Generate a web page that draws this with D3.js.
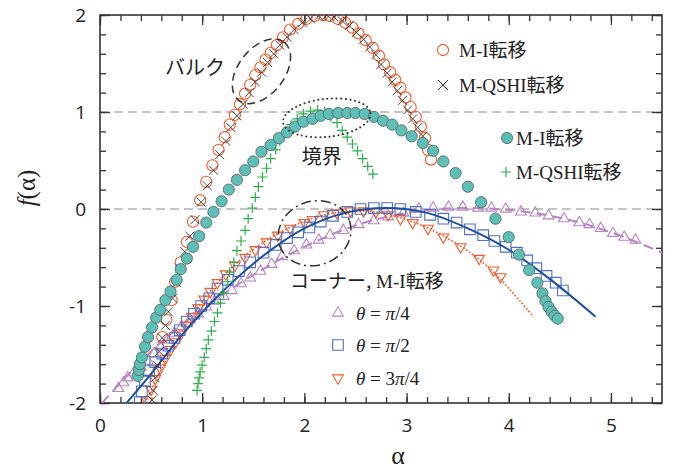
<!DOCTYPE html>
<html>
<head>
<meta charset="utf-8">
<script src="https://cdn.jsdelivr.net/npm/d3@7"></script>
<style>
  body { margin: 0; background: #fff; }
  svg { display: block; }
  .axis .tick text { font-family: "Open Sans", "Noto Sans", sans-serif; font-size: 19px; fill: #222; }
  .axis path, .axis line { stroke: #333; }
  .serif { font-family: "Liberation Serif", "Times New Roman", "Noto Sans CJK JP", serif; }
  .cjk { font-family: "Noto Sans CJK JP", sans-serif; }
</style>
</head>
<body>
<div id="chart"></div>
<script>
// bulk: M-I (open circles) and M-QSHI (x)
const bulkMI = [
  [0.61,-1.32],[0.65,-1.14],[0.70,-0.94],[0.735,-0.75],[0.79,-0.55],[0.85,-0.34],[0.91,-0.13],
  [0.98,0.09],[1.04,0.28],[1.10,0.45],[1.16,0.61],[1.22,0.74],[1.27,0.87],[1.32,0.97],[1.37,1.08],
  [1.42,1.19],[1.47,1.28],[1.52,1.38],[1.57,1.46],[1.62,1.54],[1.67,1.61],[1.73,1.69],[1.79,1.77],
  [1.86,1.85],[1.94,1.91],[2.02,1.96],[2.10,1.99],[2.18,2.0],[2.25,1.99],[2.33,1.96],[2.40,1.92],
  [2.47,1.87],[2.53,1.81],[2.60,1.74],[2.67,1.66],[2.73,1.58],[2.78,1.49],[2.84,1.41],[2.89,1.33],
  [2.94,1.25],[2.99,1.15],[3.04,1.05],[3.09,0.95],[3.14,0.85],[3.18,0.73],[3.21,0.61],[3.24,0.51]
];
const bulkQSHI = [
  [0.51,-1.97],[0.52,-1.87],[0.54,-1.74],[0.56,-1.61],[0.58,-1.47],[0.61,-1.33],[0.64,-1.20],
  [0.67,-1.06],[0.71,-0.92],[0.75,-0.76],[0.78,-0.61],[0.83,-0.44],[0.88,-0.28],[0.93,-0.11],
  [0.99,0.07],[1.05,0.24],[1.11,0.40],[1.17,0.56],[1.23,0.70],[1.28,0.84],[1.34,0.96],[1.40,1.08],
  [1.46,1.20],[1.52,1.31],[1.58,1.41],[1.64,1.51],[1.70,1.60],[1.76,1.69],[1.83,1.77],[1.90,1.85],
  [1.98,1.92],[2.06,1.96],[2.14,1.99],[2.22,2.0],[2.29,1.98],[2.37,1.94],[2.44,1.89],[2.51,1.82],
  [2.58,1.75],[2.64,1.67],[2.70,1.59],[2.75,1.49],[2.81,1.40],[2.86,1.31],[2.91,1.22],[2.96,1.12],
  [3.01,1.02],[3.06,0.93],[3.11,0.84],[3.16,0.75]
];
// boundary: M-I (filled circles) and M-QSHI (+)
const edgeMI = [
  [0.37,-1.72],[0.38,-1.66],[0.39,-1.60],[0.41,-1.53],[0.44,-1.42],[0.47,-1.32],[0.51,-1.22],
  [0.55,-1.12],[0.59,-1.04],[0.64,-0.94],[0.69,-0.85],[0.75,-0.73],[0.79,-0.62],[0.85,-0.51],
  [0.91,-0.39],[0.97,-0.28],[1.04,-0.14],[1.11,-0.03],[1.19,0.08],[1.26,0.20],[1.34,0.30],
  [1.42,0.40],[1.50,0.49],[1.58,0.59],[1.67,0.66],[1.75,0.73],[1.83,0.79],[1.91,0.85],[1.99,0.90],
  [2.08,0.93],[2.16,0.96],[2.24,0.98],[2.33,0.99],[2.42,0.99],[2.50,0.99],[2.59,0.98],[2.68,0.95],
  [2.77,0.91],[2.86,0.87],[2.95,0.81],[3.05,0.75],[3.16,0.68],[3.26,0.60],[3.36,0.49],[3.48,0.37],
  [3.60,0.23],[3.73,0.07],[3.87,-0.10],[4.00,-0.29],[4.10,-0.47],[4.20,-0.63],[4.28,-0.76],
  [4.33,-0.87],[4.36,-0.95],[4.39,-1.01],[4.42,-1.06],[4.45,-1.10],[4.48,-1.13]
];
const edgeQSHI = [
  [0.95,-1.87],[0.96,-1.80],[0.97,-1.74],[0.98,-1.68],[1.00,-1.61],[1.02,-1.53],[1.04,-1.44],
  [1.06,-1.35],[1.09,-1.26],[1.12,-1.16],[1.15,-1.07],[1.18,-0.97],[1.21,-0.87],[1.25,-0.75],
  [1.27,-0.65],[1.31,-0.55],[1.34,-0.43],[1.38,-0.33],[1.42,-0.22],[1.45,-0.10],[1.49,0.01],
  [1.52,0.12],[1.55,0.23],[1.59,0.33],[1.63,0.42],[1.67,0.52],[1.72,0.61],[1.76,0.70],[1.81,0.78],
  [1.87,0.87],[1.93,0.93],[1.99,0.98],[2.06,1.01],[2.13,1.02],[2.20,1.00],[2.26,0.95],[2.32,0.89],
  [2.37,0.81],[2.42,0.74],[2.47,0.67],[2.52,0.60],[2.57,0.52],[2.62,0.44],[2.67,0.36]
];
// corner M-I, theta = pi/4, pi/2, 3pi/4 (points and fitted curves)
const cornerQ1 = [
  [0.18,-1.85],[0.23,-1.79],[0.27,-1.74],[0.33,-1.69],[0.40,-1.63],[0.47,-1.57],[0.53,-1.49],
  [0.59,-1.42],[0.66,-1.35],[0.73,-1.28],[0.80,-1.21],[0.88,-1.14],[0.96,-1.08],[1.04,-1.01],
  [1.12,-0.95],[1.21,-0.90],[1.29,-0.84],[1.38,-0.77],[1.47,-0.71],[1.57,-0.64],[1.68,-0.57],
  [1.78,-0.49],[1.90,-0.43],[2.02,-0.37],[2.14,-0.32],[2.25,-0.27],[2.38,-0.22],[2.53,-0.16],
  [2.68,-0.12],[2.82,-0.08],[2.97,-0.04],[3.12,0.00],[3.26,0.01],[3.41,0.02],[3.55,0.02],
  [3.70,0.01],[3.83,0.01],[3.97,0.00],[4.12,-0.03],[4.26,-0.04],[4.39,-0.07],[4.54,-0.10],
  [4.69,-0.14],[4.79,-0.16],[4.90,-0.20],[5.02,-0.25],[5.13,-0.29],[5.24,-0.32]
];
const cornerQ1Fit = [
  [0.02,-2.0],[0.3,-1.68],[0.6,-1.37],[1.0,-1.03],[1.5,-0.68],[2.0,-0.39],[2.5,-0.17],
  [3.0,-0.04],[3.5,0.01],[4.0,-0.01],[4.5,-0.09],[5.0,-0.24],[5.5,-0.45]
];
const cornerQ2 = [
  [0.39,-1.99],[0.41,-1.88],[0.44,-1.77],[0.48,-1.67],[0.54,-1.58],[0.61,-1.49],[0.67,-1.41],
  [0.73,-1.33],[0.78,-1.25],[0.85,-1.16],[0.92,-1.08],[0.99,-1.00],[1.07,-0.92],[1.15,-0.82],
  [1.25,-0.73],[1.36,-0.64],[1.47,-0.55],[1.60,-0.45],[1.72,-0.37],[1.83,-0.30],[1.94,-0.24],
  [2.05,-0.19],[2.16,-0.13],[2.28,-0.07],[2.42,-0.03],[2.55,0.00],[2.68,0.01],[2.81,0.01],
  [2.94,0.00],[3.09,-0.03],[3.23,-0.06],[3.36,-0.10],[3.49,-0.14],[3.62,-0.21],[3.75,-0.27],
  [3.86,-0.33],[3.97,-0.39],[4.08,-0.45],[4.18,-0.53],[4.27,-0.61],[4.37,-0.69],[4.46,-0.76],
  [4.53,-0.84]
];
const cornerQ2Fit = [
  [0.26,-2.0],[0.5,-1.7],[0.8,-1.3],[1.2,-0.85],[1.6,-0.48],[2.0,-0.2],[2.4,-0.04],[2.8,0.01],
  [3.2,-0.04],[3.6,-0.2],[4.0,-0.42],[4.4,-0.72],[4.85,-1.11]
];
const cornerQ3 = [
  [0.46,-1.98],[0.50,-1.86],[0.54,-1.75],[0.59,-1.64],[0.64,-1.54],[0.69,-1.45],[0.74,-1.37],
  [0.79,-1.29],[0.84,-1.20],[0.90,-1.11],[0.96,-1.02],[1.02,-0.93],[1.08,-0.85],[1.15,-0.76],
  [1.23,-0.67],[1.32,-0.58],[1.42,-0.50],[1.52,-0.42],[1.63,-0.34],[1.74,-0.27],[1.86,-0.20],
  [2.00,-0.14],[2.08,-0.11],[2.19,-0.06],[2.32,-0.04],[2.45,-0.02],[2.58,-0.02],[2.70,-0.03],
  [2.82,-0.06],[2.94,-0.10],[3.06,-0.14],[3.21,-0.20],[3.36,-0.29],[3.53,-0.39],[3.71,-0.51],
  [3.85,-0.63],[3.92,-0.70]
];
const cornerQ3Fit = [
  [0.44,-2.0],[0.7,-1.45],[1.0,-0.95],[1.4,-0.5],[1.8,-0.22],[2.2,-0.06],[2.6,-0.02],
  [3.0,-0.11],[3.4,-0.3],[3.8,-0.6],[4.24,-1.11]
];
const xTicks = [0, 1, 2, 3, 4, 5];
const yTicks = [-2, -1, 0, 1, 2];
const refLines = [0, 1];

(function () {
  const width = 676, height = 472;
  const margin = { top: 15, right: 14, bottom: 69, left: 100 };
  const innerWidth = width - margin.left - margin.right;
  const innerHeight = height - margin.top - margin.bottom;

  const orange = "#f15a29", teal = "#5cc0b8", green = "#2bb04a",
        purple = "#b884c4", blue = "#4d72c4", blueLine = "#1d4fa3";

  const svg = d3.select("#chart").append("svg")
    .attr("width", width).attr("height", height);

  const g = svg.append("g")
    .attr("transform", `translate(${margin.left},${margin.top})`);

  const x = d3.scaleLinear().domain([0, 5.5]).range([0, innerWidth]);
  const y = d3.scaleLinear().domain([-2, 2]).range([innerHeight, 0]);

  // reference dashed lines
  g.selectAll(".ref").data(refLines).join("line")
    .attr("x1", 0).attr("x2", innerWidth)
    .attr("y1", d => y(d)).attr("y2", d => y(d))
    .attr("stroke", "#8a8a8a").attr("stroke-width", 1)
    .attr("stroke-dasharray", "9,5");

  // axes: major + minor, ticks inward on all four sides
  const minorX = d3.range(0, 5.5, 0.2), minorY = d3.range(-2, 2.01, 0.2);
  const plain = d => String(d);
  function addAxis(axis, transform, labels) {
    const a = g.append("g").attr("class", "axis").attr("transform", transform).call(axis);
    a.select(".domain").remove();
    a.selectAll("line").attr("stroke-width", 1.3);
    if (!labels) a.selectAll("text").remove();
    return a;
  }
  addAxis(d3.axisBottom(x).tickValues(xTicks).tickSize(-10).tickPadding(16).tickFormat(plain), `translate(0,${innerHeight})`, true);
  addAxis(d3.axisBottom(x).tickValues(minorX).tickSize(-6).tickFormat(""), `translate(0,${innerHeight})`, false);
  addAxis(d3.axisTop(x).tickValues(xTicks).tickSize(-10), "translate(0,0)", false);
  addAxis(d3.axisTop(x).tickValues(minorX).tickSize(-6), "translate(0,0)", false);
  addAxis(d3.axisLeft(y).tickValues(yTicks).tickSize(-10).tickPadding(14).tickFormat(plain), "translate(0,0)", true);
  addAxis(d3.axisLeft(y).tickValues(minorY).tickSize(-6).tickFormat(""), "translate(0,0)", false);
  addAxis(d3.axisRight(y).tickValues(yTicks).tickSize(-10), `translate(${innerWidth},0)`, false);
  addAxis(d3.axisRight(y).tickValues(minorY).tickSize(-6), `translate(${innerWidth},0)`, false);

  g.append("rect")
    .attr("width", innerWidth).attr("height", innerHeight)
    .attr("fill", "none").attr("stroke", "#333").attr("stroke-width", 1.6);

  // axis titles
  svg.append("text").attr("class", "serif")
    .attr("x", 398).attr("y", 464)
    .attr("text-anchor", "middle").attr("font-size", 26).attr("fill", "#222")
    .text("α");
  svg.append("text").attr("class", "serif")
    .attr("transform", "translate(35,188) rotate(-90)")
    .attr("text-anchor", "middle").attr("font-size", 25).attr("fill", "#222")
    .html('<tspan font-style="italic">f</tspan>(α)');

  // marker shapes
  const shapes = {
    x: r => `M${-r},${-r}L${r},${r}M${-r},${r}L${r},${-r}`,
    plus: r => `M${-r},0L${r},0M0,${-r}L0,${r}`,
    tri: r => `M0,${-r}L${r * 0.866},${r * 0.5}L${-r * 0.866},${r * 0.5}Z`,
    triDown: r => `M0,${r}L${r * 0.866},${-r * 0.5}L${-r * 0.866},${-r * 0.5}Z`,
    sq: r => `M${-r},${-r}h${2 * r}v${2 * r}h${-2 * r}Z`
  };

  const line = d3.line().x(d => x(d[0])).y(d => y(d[1])).curve(d3.curveCatmullRom);
  svg.append("defs").append("clipPath").attr("id", "clip")
    .append("rect").attr("width", innerWidth).attr("height", innerHeight);
  const plot = g.append("g").attr("clip-path", "url(#clip)");

  function drawPoints(data, shape, r, stroke, fill, sw) {
    plot.append("g").selectAll("path").data(data).join("path")
      .attr("transform", d => `translate(${x(d[0])},${y(d[1])})`)
      .attr("d", shapes[shape](r))
      .attr("fill", fill).attr("stroke", stroke).attr("stroke-width", sw);
  }
  function drawCircles(data, r, stroke, fill, sw) {
    plot.append("g").selectAll("circle").data(data).join("circle")
      .attr("cx", d => x(d[0])).attr("cy", d => y(d[1])).attr("r", r)
      .attr("fill", fill).attr("stroke", stroke).attr("stroke-width", sw);
  }

  // corner
  plot.append("path").datum(cornerQ1Fit).attr("d", line)
    .attr("fill", "none").attr("stroke", purple).attr("stroke-width", 2).attr("stroke-dasharray", "10,6");
  drawPoints(cornerQ1, "tri", 6.2, purple, "none", 1.1);
  plot.append("path").datum(cornerQ3Fit).attr("d", line)
    .attr("fill", "none").attr("stroke", orange).attr("stroke-width", 1.8).attr("stroke-dasharray", "1.5,2");
  drawPoints(cornerQ3, "triDown", 6.2, orange, "none", 1.1);
  drawPoints(cornerQ2, "sq", 5.3, blue, "none", 1.1);
  plot.append("path").datum(cornerQ2Fit).attr("d", line)
    .attr("fill", "none").attr("stroke", blueLine).attr("stroke-width", 2);

  // bulk
  drawCircles(bulkMI, 5.6, orange, "none", 1.1);
  drawPoints(bulkQSHI, "x", 4.5, "#333", "none", 0.9);

  // boundary
  drawPoints(edgeQSHI, "plus", 5, green, "none", 1.2);
  drawCircles(edgeMI, 5.6, "#5a6a68", teal, 0.9);

  // annotation ellipses
  g.append("ellipse")
    .attr("transform", `translate(${x(1.58)},${y(1.42)}) rotate(-52)`)
    .attr("rx", 37).attr("ry", 23)
    .attr("fill", "none").attr("stroke", "#333").attr("stroke-width", 1.5).attr("stroke-dasharray", "8,5");
  g.append("ellipse")
    .attr("transform", `translate(${x(2.22)},${y(0.94)}) rotate(-6)`)
    .attr("rx", 44).attr("ry", 19)
    .attr("fill", "none").attr("stroke", "#333").attr("stroke-width", 2)
    .attr("stroke-linecap", "round").attr("stroke-dasharray", "0.1,4.5");
  g.append("ellipse")
    .attr("transform", `translate(${x(2.1)},${y(-0.25)}) rotate(-20)`)
    .attr("rx", 37).attr("ry", 32)
    .attr("fill", "none").attr("stroke", "#333").attr("stroke-width", 1.5).attr("stroke-dasharray", "10,4,2,4");

  // annotation labels
  g.append("text").attr("class", "cjk")
    .attr("x", x(0.93)).attr("y", y(1.45)).attr("dy", "0.35em")
    .attr("text-anchor", "middle").attr("font-size", 20).attr("fill", "#222").text("バルク");
  g.append("text").attr("class", "cjk")
    .attr("x", x(2.17)).attr("y", y(0.54)).attr("dy", "0.35em")
    .attr("text-anchor", "middle").attr("font-size", 20).attr("fill", "#222").text("境界");
  g.append("text")
    .attr("x", x(1.86)).attr("y", y(-0.75)).attr("dy", "0.35em")
    .attr("font-size", 19).attr("fill", "#222")
    .html('<tspan class="cjk">コーナー,</tspan><tspan class="serif"> M-I転移</tspan>');

  // legends (svg coordinates)
  const leg = svg.append("g");
  function legendItem(px, py, tx, draw, label) {
    const item = leg.append("g").attr("transform", `translate(${px},${py})`);
    draw(item);
    leg.append("text").attr("class", "serif")
      .attr("x", tx).attr("y", py).attr("dy", "0.35em")
      .attr("font-size", 19).attr("fill", "#222").html(label);
  }
  const circ = (stroke, fill, sw) => s => s.append("circle").attr("r", 5.6)
    .attr("fill", fill).attr("stroke", stroke).attr("stroke-width", sw);
  const mark = (shape, r, stroke, sw) => s => s.append("path").attr("d", shapes[shape](r))
    .attr("fill", "none").attr("stroke", stroke).attr("stroke-width", sw);

  legendItem(443, 50, 459, circ(orange, "none", 1.1), "M-I転移");
  legendItem(443, 85, 459, mark("x", 5, "#333", 1), "M-QSHI転移");
  legendItem(507, 138, 516, circ("#5a6a68", teal, 0.9), "M-I転移");
  legendItem(506, 172, 516, mark("plus", 5, green, 1.2), "M-QSHI転移");
  legendItem(338, 313, 356, mark("tri", 6.2, purple, 1.1),
    '<tspan font-style="italic">θ</tspan> = <tspan font-style="italic">π</tspan>/4');
  legendItem(338, 345, 356, mark("sq", 5.3, blue, 1.1),
    '<tspan font-style="italic">θ</tspan> = <tspan font-style="italic">π</tspan>/2');
  legendItem(338, 378, 356, mark("triDown", 6.2, orange, 1.1),
    '<tspan font-style="italic">θ</tspan> = 3<tspan font-style="italic">π</tspan>/4');
})();
</script>
</body>
</html>
